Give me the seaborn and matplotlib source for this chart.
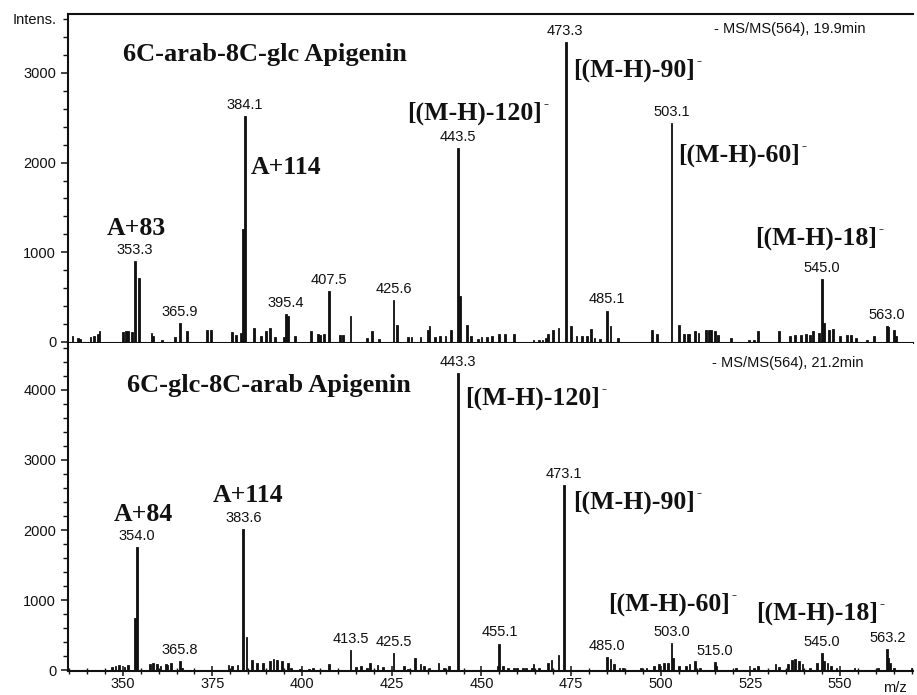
import numpy as np
import pandas as pd
import seaborn as sns
import matplotlib.pyplot as plt
from matplotlib.ticker import MultipleLocator

# upper trace: 6C-arab-8C-glc apigenin, MS/MS(564) 19.9 min
top_mz = [336.1, 337.6, 338.2, 340.9, 341.8, 342.9, 343.5, 350.2, 350.9, 351.5,
          352.3, 353.3, 354.3, 357.8, 358.7, 361.2, 364.6, 365.9, 368.2, 373.6,
          374.7, 380.4, 381.5, 383.0, 383.4, 384.1, 386.5, 388.3, 389.9, 390.8,
          392.5, 394.8, 395.4, 395.9, 397.9, 402.5, 404.4, 405.2, 405.8, 407.5,
          410.5, 411.5, 413.3, 418.1, 419.5, 421.3, 425.6, 426.4, 429.7, 430.6,
          433.2, 435.0, 435.7, 437.1, 438.5, 439.9, 441.3, 443.5, 444.2, 445.8,
          447.1, 448.8, 450.2, 451.6, 453.0, 455.2, 456.6, 458.9, 464.5, 465.8,
          467.0, 467.9, 468.7, 470.1, 471.5, 473.3, 475.0, 476.7, 478.0, 479.4,
          480.5, 481.7, 483.1, 485.1, 486.2, 487.8, 497.6, 499.0, 503.1, 505.0,
          506.4, 507.3, 508.2, 509.4, 510.6, 512.4, 513.3, 514.2, 515.2, 516.1,
          519.4, 524.5, 525.9, 526.8, 532.9, 536.1, 537.5, 538.9, 540.3, 541.7,
          542.7, 544.0, 545.0, 545.6, 546.8, 548.2, 550.1, 552.0, 552.8, 554.3,
          557.5, 559.4, 563.0, 563.6, 564.8, 565.7]
top_int = [63, 45, 37, 55, 70, 90, 120, 110, 120, 120,
           110, 905, 715, 100, 70, 25, 60, 215, 120, 130,
           130, 110, 80, 100, 1262, 2514, 156, 63, 120, 156,
           52, 52, 310, 290, 63, 126, 90, 75, 90, 570,
           80, 80, 290, 45, 126, 37, 465, 186, 56, 56,
           56, 137, 175, 60, 63, 63, 130, 2160, 510, 186,
           63, 37, 52, 52, 63, 90, 90, 90, 25, 25,
           25, 40, 93, 137, 156, 3340, 175, 63, 63, 63,
           145, 45, 37, 350, 182, 45, 130, 90, 2440, 186,
           93, 93, 93, 120, 100, 137, 130, 137, 120, 80,
           45, 25, 25, 120, 120, 63, 80, 80, 90, 80,
           120, 100, 700, 212, 137, 148, 63, 80, 80, 45,
           25, 63, 180, 163, 137, 63]
top_labels = [353.3, 365.9, 384.1, 395.4, 407.5, 425.6, 443.5, 473.3, 485.1,
              503.1, 545.0, 563.0]

# lower trace: 6C-glc-8C-arab apigenin, MS/MS(564) 21.2 min
bot_mz = [346.9, 347.9, 348.8, 350.6, 351.5, 353.4, 354.0, 357.4, 358.5, 359.5,
          360.4, 361.8, 362.7, 363.7, 365.8, 366.7, 379.5, 380.4, 381.8, 383.6,
          384.3, 386.0, 387.4, 388.8, 391.1, 392.0, 393.1, 394.4, 395.8, 397.2,
          399.5, 401.8, 403.2, 407.4, 413.5, 415.1, 416.7, 418.1, 419.2, 421.0,
          422.3, 425.5, 428.3, 429.7, 431.5, 432.9, 433.9, 435.7, 438.0, 439.4,
          440.8, 443.3, 454.4, 455.1, 455.8, 457.7, 458.9, 460.1, 461.4, 462.6,
          463.8, 464.7, 466.0, 468.4, 469.6, 471.7, 473.1, 485.0, 486.1, 487.0,
          488.4, 489.6, 494.3, 496.2, 498.0, 499.4, 500.8, 502.2, 503.0, 503.6,
          505.0, 506.9, 508.2, 509.4, 511.0, 515.0, 515.7, 520.8, 525.9, 526.8,
          532.0, 532.9, 535.7, 536.6, 537.5, 538.5, 539.4, 541.7, 543.6, 545.0,
          545.6, 546.4, 547.3, 549.2, 553.8, 560.4, 563.2, 563.7, 564.2, 564.9,
          570.0]
bot_int = [48, 57, 72, 43, 72, 740, 1757, 81, 96, 81,
           57, 91, 72, 105, 129, 33, 72, 57, 72, 2015,
           470, 138, 105, 96, 129, 162, 143, 129, 96, 33,
           19, 19, 24, 81, 290, 48, 57, 33, 105, 67,
           43, 248, 57, 10, 167, 81, 57, 33, 105, 33,
           57, 4243, 57, 377, 57, 30, 30, 30, 35, 30,
           30, 81, 30, 105, 143, 210, 2640, 191, 153, 81,
           24, 33, 33, 24, 57, 91, 105, 105, 382, 177,
           57, 57, 91, 129, 33, 115, 57, 24, 33, 57,
           81, 43, 81, 143, 153, 129, 81, 33, 105, 248,
           129, 105, 57, 33, 24, 33, 296, 177, 105, 33,
           33]
bot_labels = [354.0, 365.8, 383.6, 413.5, 425.5, 443.3, 455.1, 473.1, 485.0,
              503.0, 515.0, 545.0, 563.2]

top_title = "6C-arab-8C-glc Apigenin"
bot_title = "6C-glc-8C-arab Apigenin"
top_run = "- MS/MS(564), 19.9min"
bot_run = "- MS/MS(564), 21.2min"

# fragment annotations: text, m/z, intensity where the text sits, ion charge mark
top_frag = [("A+83", 345.6, 1270, False), ("A+114", 385.8, 1940, False),
            ("[(M-H)-120]", 429.3, 2553, True), ("[(M-H)-90]", 475.6, 3032, True),
            ("[(M-H)-60]", 504.9, 2085, True), ("[(M-H)-18]", 526.4, 1160, True)]
bot_frag = [("A+84", 347.6, 2220, False), ("A+114", 375.2, 2493, False),
            ("[(M-H)-120]", 445.5, 3883, True), ("[(M-H)-90]", 475.6, 2393, True),
            ("[(M-H)-60]", 485.4, 946, True), ("[(M-H)-18]", 526.7, 817, True)]

sns.set_style("ticks")
plt.rcParams['font.family'] = ['Liberation Sans', 'DejaVu Sans']
serif = dict(family=['Liberation Serif', 'DejaVu Serif'], weight='bold')
ink = '#111111'

fig = plt.figure(figsize=(9.17, 6.95), dpi=100)
ax1 = fig.add_axes([0.0742, 0.5065, 0.9218, 0.4734])
ax2 = fig.add_axes([0.0742, 0.0345, 0.9218, 0.4720], sharex=ax1)

panels = [
    (ax1, top_mz, top_int, top_labels, top_title, top_run, top_frag, (-11, 3657), (350.1, 3200)),
    (ax2, bot_mz, bot_int, bot_labels, bot_title, bot_run, bot_frag, (-14, 4671), (351.2, 4069)),
]

for ax, mz, inten, labels, title, run, frags, ylim, tpos in panels:
    df = pd.DataFrame({'mz': mz, 'intensity': inten})
    sns.histplot(data=df, x='mz', weights='intensity', binwidth=0.5,
                 binrange=(334.75, 570.75), color=ink, alpha=1,
                 edgecolor=ink, linewidth=0.6, ax=ax)
    peaks = dict(zip(mz, inten))
    for m in labels:
        ax.annotate(f"{m:.1f}", xy=(m, peaks[m]), xytext=(0, 3),
                    textcoords='offset points', ha='center', va='bottom',
                    fontsize=10.5, color=ink)
    for txt, x, y, ion in frags:
        t = ax.text(x, y, txt, ha='left', va='center', color=ink, size=18.5, **serif)
        if ion:
            ax.annotate('-', xy=(1.0, 0.86), xycoords=t, xytext=(1, 0),
                        textcoords='offset points', ha='left', va='center',
                        color=ink, size=11, **serif)
    ax.text(tpos[0], tpos[1], title, ha='left', va='center', color=ink, size=19, **serif)
    ax.text(0.943 if ax is ax1 else 0.941, 0.954 if ax is ax1 else 0.939, run,
            transform=ax.transAxes, ha='right', va='center', fontsize=10.5, color=ink)
    ax.set_ylim(*ylim)
    ax.set_xlabel('')
    ax.set_ylabel('')
    ax.yaxis.set_major_locator(MultipleLocator(1000))
    ax.yaxis.set_minor_locator(MultipleLocator(200))
    ax.tick_params(axis='y', which='major', direction='out', length=5, width=1.1,
                   labelsize=10.5, pad=3.5, colors=ink)
    ax.tick_params(axis='y', which='minor', direction='out', length=3.5, width=1.0, colors=ink)
    for side in ['left', 'bottom', 'top']:
        ax.spines[side].set_linewidth(1.5)
        ax.spines[side].set_color(ink)
    ax.spines['right'].set_visible(False)

ax1.set_xlim(334.75, 570.4)
ax2.spines['top'].set_visible(False)
ax1.tick_params(axis='x', which='both', bottom=False, labelbottom=False)
ax2.xaxis.set_major_locator(MultipleLocator(25))
ax2.xaxis.set_minor_locator(MultipleLocator(5))
ax2.tick_params(axis='x', which='major', direction='inout', length=7, width=1.1,
                labelsize=10.5, pad=1, colors=ink)
ax2.tick_params(axis='x', which='minor', direction='inout', length=5, width=1.0, colors=ink)
ax2.text(565.4, -0.052, 'm/z', transform=ax2.get_xaxis_transform(),
         ha='center', va='center', fontsize=10.5, color=ink)
ax1.text(-0.013, 0.982, 'Intens.', transform=ax1.transAxes, ha='right', va='center',
         fontsize=10.5, color=ink)

fig.savefig('out.png', dpi=100)
